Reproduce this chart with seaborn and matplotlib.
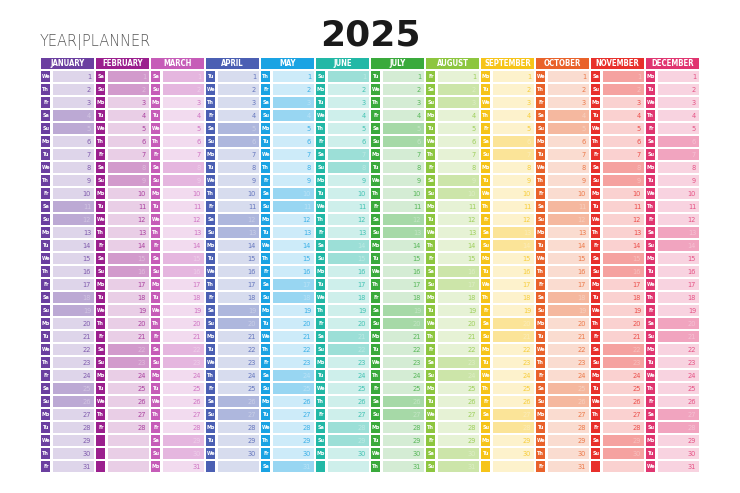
import datetime
import numpy as np
import matplotlib.pyplot as plt
import matplotlib.colors as mcolors
import seaborn as sns

# ------------------------------------------------------------
# Données
# ------------------------------------------------------------
year = 2025
months = ["JANUARY", "FEBRUARY", "MARCH", "APRIL", "MAY", "JUNE",
          "JULY", "AUGUST", "SEPTEMBER", "OCTOBER", "NOVEMBER", "DECEMBER"]
days_in_month = [31, 28, 31, 30, 31, 30, 31, 31, 30, 31, 30, 31]
day_abbr = ["Mo", "Tu", "We", "Th", "Fr", "Sa", "Su"]
month_colors = ["#6b3fa0", "#9b1f8e", "#c65cb8", "#4b5fb3", "#1aa3e3", "#22b8a6",
                "#3aaa3c", "#8dc63f", "#f6c419", "#e9622a", "#e8302b", "#e03570"]

sns.set_theme(style="white")
fig = plt.figure(figsize=(7.4, 4.93), dpi=100)
ax = fig.add_axes([40 / 740, 20 / 493, 660 / 740, 416 / 493])

def mix(c, t):
    r = np.array(mcolors.to_rgb(c))
    return tuple(1 - (1 - r) * t)

bw = 0.17   # largeur de la case du jour
gap = 0.04
for m, (name, col) in enumerate(zip(months, month_colors)):
    # entête
    ax.bar(m + 0.02, 0.9, width=0.96, bottom=0.05, align="edge", color=col, linewidth=0)
    ax.text(m + 0.5, 0.52, name, ha="center", va="center", color="white",
            fontsize=5.6, fontweight="bold", family="DejaVu Sans", stretch="condensed")
    for d in range(1, 32):
        y = d + 0.08
        ax.bar(m + 0.02, 0.84, width=bw, bottom=y, align="edge", color=col, linewidth=0)
        if d <= days_in_month[m]:
            wd = datetime.date(year, m + 1, d).weekday()
            weekend = wd >= 5
            cell = mix(col, 0.45 if weekend else 0.22)
            ax.bar(m + 0.02 + bw + gap, 0.84, width=0.96 - bw - gap, bottom=y,
                   align="edge", color=cell, linewidth=0)
            ax.text(m + 0.02 + bw / 2, y + 0.44, day_abbr[wd], ha="center", va="center",
                    color="white", fontsize=3.5, fontweight="bold")
            ax.text(m + 0.93, y + 0.44, str(d), ha="right", va="center",
                    color=mix(col, 0.3 if weekend else 0.85), fontsize=4.8)
        else:
            ax.bar(m + 0.02 + bw + gap, 0.84, width=0.96 - bw - gap, bottom=y,
                   align="edge", color=mix(col, 0.22), linewidth=0)

ax.set_xlim(0, 12)
ax.set_ylim(32, 0)
ax.axis("off")

fig.text(370 / 740, 1 - 35 / 493, "2025", ha="center", va="center",
         fontsize=26, fontweight="bold", color="#1a1a1a")
fig.text(40 / 740, 1 - 42 / 493, "YEAR|PLANNER", ha="left", va="center",
         fontsize=10.5, color="#555555", fontweight="light")

fig.savefig("out.png", dpi=100)
